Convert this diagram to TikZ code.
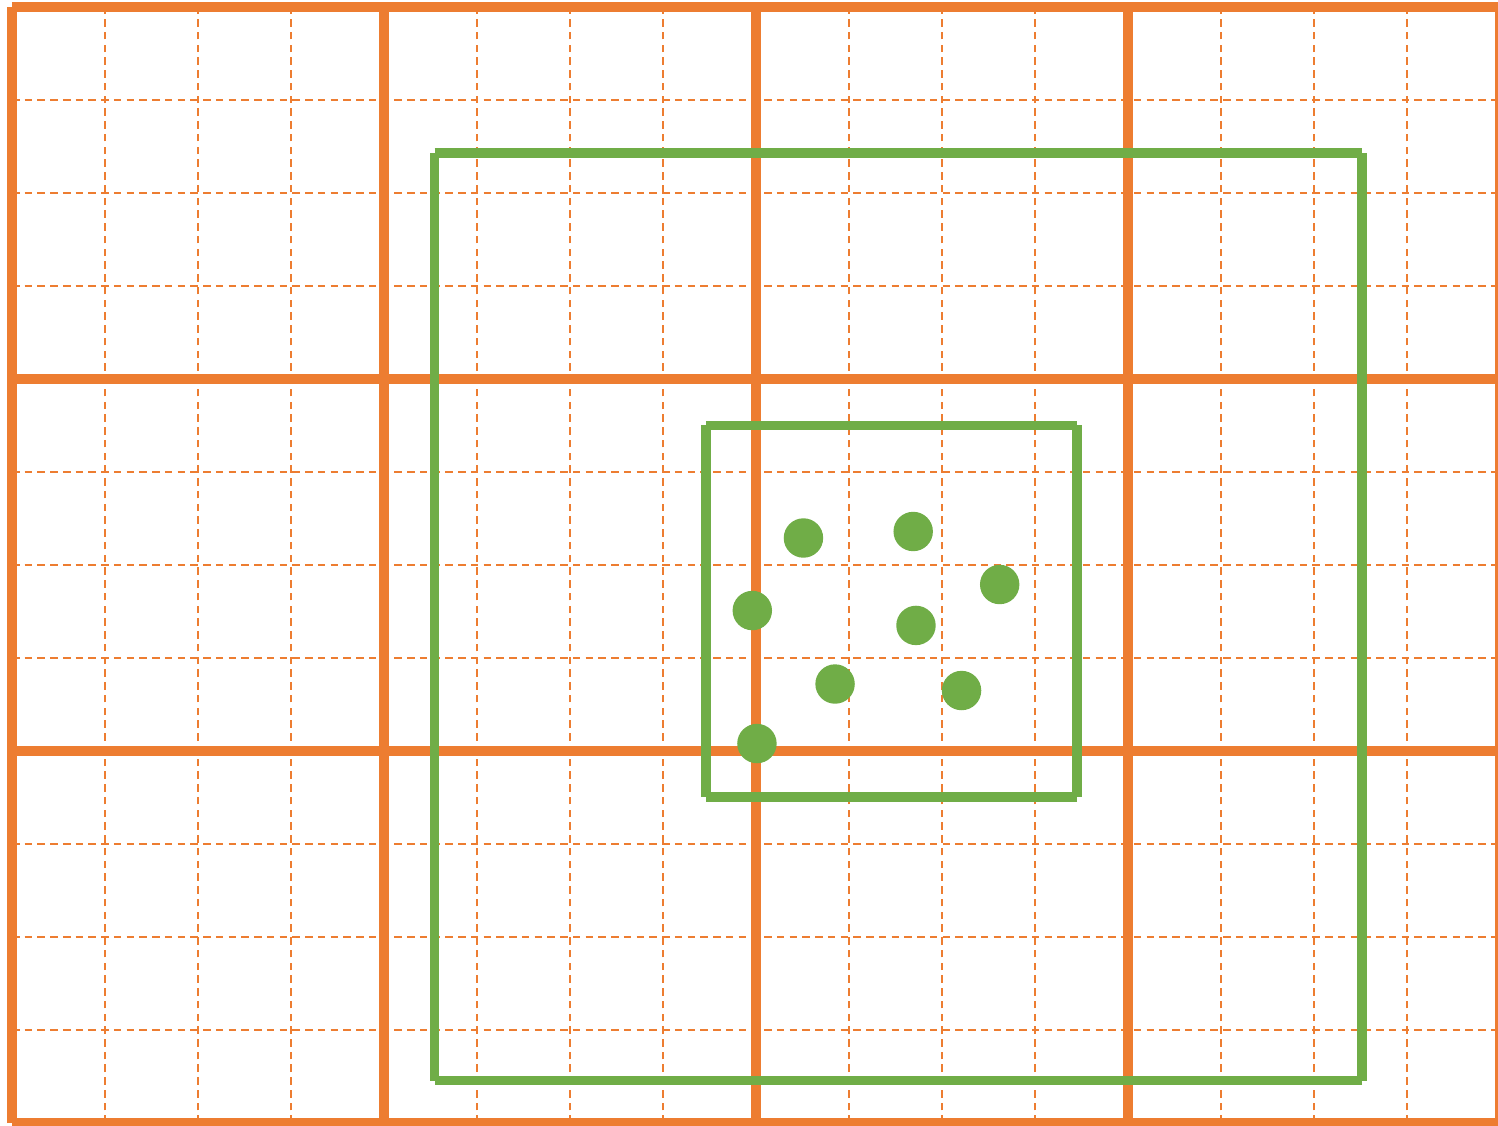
\documentclass[tikz,border=0pt]{standalone}
\usepackage{xcolor}
\usepackage{tikz}
\definecolor{gridor}{HTML}{ED7D31}
\definecolor{boxgr}{HTML}{70AD47}
\tikzset{
  minorline/.style={gridor, line width=0.6pt, dash pattern=on 2.3pt off 1.6pt},
  majorline/.style={gridor, line width=3pt, line cap=butt},
  window/.style={boxgr, line width=2.8pt, line cap=butt},
  pt/.style={circle, fill=boxgr, inner sep=0pt, minimum size=0.424cm},
}
\newcommand{\winbox}[4]{%
  \draw[window] (#1,#2) -- (#1,#4);
  \draw[window] (#1,#4) -- (#3,#4);
  \draw[window] (#3,#4) -- (#3,#2);
  \draw[window] (#3,#2) -- (#1,#2);}

\begin{document}
\begin{tikzpicture}[x=1cm,y=1cm]
  \useasboundingbox (-0.129,-0.032) rectangle (15.978,12.075);
  % fine grid
  \foreach \x in {1,...,15} \draw[minorline] (\x,0) -- (\x,12);
  \foreach \y in {1,...,11} \draw[minorline] (0,\y) -- (16,\y);
  % coarse grid
  \foreach \x in {0,4,...,16} \draw[majorline] (\x,0) -- (\x,12);
  \foreach \y in {0,4,...,12} \draw[majorline] (0,\y) -- (16,\y);
  % search windows
  \winbox{4.543}{0.454}{14.516}{10.43}
  \winbox{7.462}{3.505}{11.452}{7.502}
  % points
  \foreach \px/\py [count=\i] in {8.51/6.29, 9.69/6.36, 10.62/5.79, 7.96/5.51,
      9.72/5.35, 8.85/4.72, 10.21/4.65, 8.01/4.08}
    \node[pt] (p\i) at (\px,\py) {};
\end{tikzpicture}
\end{document}
